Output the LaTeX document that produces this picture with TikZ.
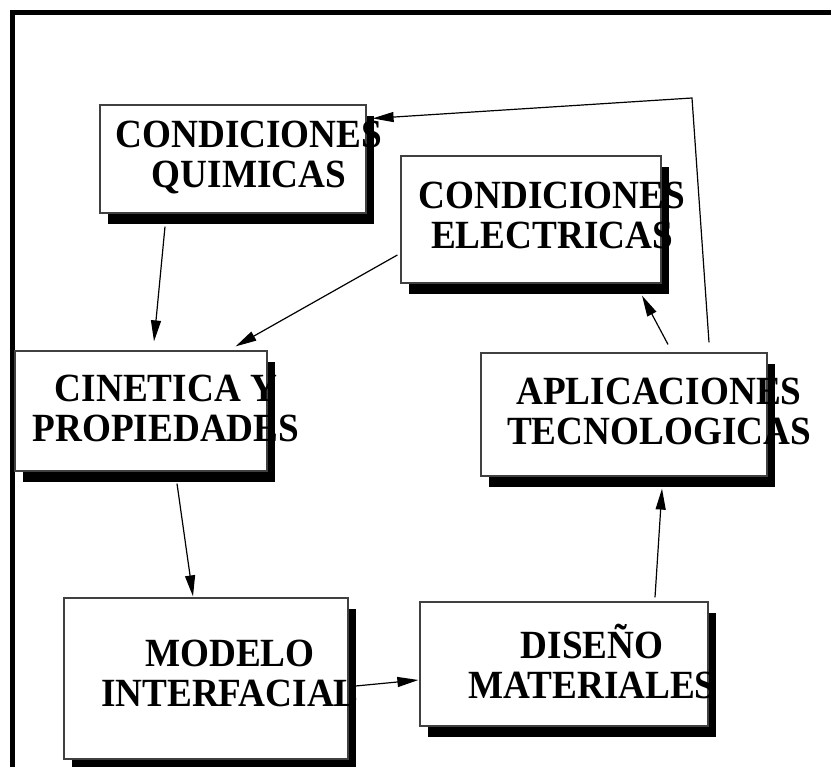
\documentclass[tikz,border=0pt]{standalone}
\usepackage{fontspec}
\setmainfont{Liberation Serif}
\newfontfamily\boxfont{Liberation Serif}[FakeStretch=0.93]
\usetikzlibrary{arrows.meta,shadows}

\tikzset{
  panel/.style={
    rectangle,
    draw=black!75,
    line width=1.2pt,
    fill=white,
    drop shadow={shadow xshift=8pt, shadow yshift=-11pt, fill=black, opacity=1}},
  panelText/.style={align=center, inner sep=0pt,
    font=\boxfont\bfseries\fontsize{40}{40}\selectfont},
  link/.style={-{Triangle[length=21pt,width=10pt]}, line width=1.2pt}
}

\begin{document}
\begin{tikzpicture}[x=1pt,y=-1pt]
  \useasboundingbox (0,0) rectangle (831,767);
  \draw[line width=4.5pt] (831,12.5) -- (12.5,12.5) -- (12.5,767);

  \node[panel, minimum width=266pt, minimum height=108pt] (quim) at (233,159) {};
  \node[panel, minimum width=260pt, minimum height=127pt] (elec) at (531,219.5) {};
  \node[panel, minimum width=252pt, minimum height=120pt] (cine) at (141,411) {};
  \node[panel, minimum width=286pt, minimum height=123pt] (apli) at (624,414.5) {};
  \node[panel, minimum width=284pt, minimum height=161pt] (mode) at (206,678.5) {};
  \node[panel, minimum width=288pt, minimum height=124pt] (dise) at (564,664) {};

  \node[panelText] (quimtxt) at (249,158) {CONDICIONES\\QUIMICAS};
  \node[panelText] (electxt) at (552,215) {CONDICIONES\\ELECTRICAS};
  \node[panelText] (cinetxt) at (166,408) {CINETICA Y\\PROPIEDADES};
  \node[panelText] (aplitxt) at (659,411) {APLICACIONES\\TECNOLOGICAS};
  \node[panelText] (modetxt) at (230,673) {MODELO\\INTERFACIAL};
  \node[panelText] (disetxt) at (592,662) {DISEÑO\\MATERIALES};

  \coordinate (bend) at (692,98);

  \draw[link] ([xshift=-68pt,yshift=-13pt]quim.south) -- ([xshift=13pt,yshift=9pt]cine.north);
  \draw[link] ([xshift=-3pt,yshift=-35.5pt]elec.west) -- ([xshift=-32pt,yshift=4pt]cine.north east);
  \draw[link] ([xshift=36pt,yshift=-12pt]cine.south) -- ([xshift=-13pt,yshift=1pt]mode.north);
  \draw[link] ([xshift=7pt,yshift=-7.5pt]mode.east) -- ([xshift=-1pt,yshift=-16pt]dise.west);
  \draw[link] ([xshift=91pt,yshift=4pt]dise.north) -- ([xshift=38pt,yshift=-12pt]apli.south);
  \draw[link] ([xshift=44pt,yshift=8pt]apli.north) -- ([xshift=111pt,yshift=-12pt]elec.south);
  \draw[link] ([xshift=85pt,yshift=10pt]apli.north) -- (bend) -- ([xshift=6pt,yshift=-14pt]quim.north east);
\end{tikzpicture}
\end{document}
